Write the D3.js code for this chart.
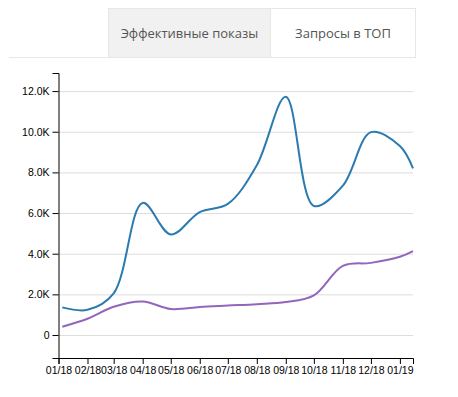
<!DOCTYPE html>
<html>
<head>
<meta charset="utf-8">
<script src="https://cdn.jsdelivr.net/npm/d3@7"></script>
<style>
  body { margin: 0; background: #fff; }
  .tabTxt { font-family: "Open Sans", sans-serif; font-size: 13px; fill: #555; }
  .d3Axis text { font-family: "Liberation Sans", Arial, sans-serif; font-size: 10.5px; fill: #000; }
  .d3Axis path, .d3Axis line { stroke: #000; }
  .d3Grid line { stroke: #ddd; }
  .d3Grid .domain { display: none; }
</style>
</head>
<body>
<div id="chartCVS"></div>
<script>
// tabs
var tabLabels = ["Эффективные показы", "Запросы в ТОП"];

// data, one point per month
var dates = ["2018-01-05", "2018-02-01", "2018-03-01", "2018-04-01", "2018-05-01", "2018-06-01",
             "2018-07-01", "2018-08-01", "2018-09-01", "2018-10-01", "2018-11-01", "2018-12-01",
             "2019-01-01", "2019-01-15"];
var shows = [1360, 1240, 2050, 6500, 4950, 6050, 6450, 8350, 11720, 6350, 7350, 9980, 9300, 8200];
var queries = [410, 800, 1390, 1650, 1280, 1380, 1450, 1520, 1620, 1950, 3400, 3550, 3850, 4130];

var xDomain = ["2018-01-01", "2019-01-15"];
var yDomain = [-1130, 12890];

var parseDate = d3.timeParse("%Y-%m-%d");

drawLineChart("chartCVS");

function drawLineChart(divIdStr) {
	var W = 458, H = 397;
	var margin = {top: 73, right: 45, bottom: 39, left: 58.5};
	var width = W - margin.left - margin.right,
	    height = H - margin.top - margin.bottom;

	var svg = d3.select("#" + divIdStr).append("svg")
		.attr("width", W)
		.attr("height", H);

	// tabs on top
	var tabs = [{x: 108.5, w: 162, fill: "#f1f1f1"}, {x: 270.5, w: 145, fill: "#fff"}];
	svg.append("line")
		.attr("x1", 9).attr("x2", 108.5)
		.attr("y1", 57.5).attr("y2", 57.5)
		.attr("stroke", "#e8e8e8");
	var tabG = svg.append("g").selectAll("g")
		.data(tabs)
		.enter().append("g");
	tabG.append("rect")
		.attr("x", function(d) { return d.x; })
		.attr("y", 8.5)
		.attr("width", function(d) { return d.w; })
		.attr("height", 49)
		.attr("fill", function(d) { return d.fill; })
		.attr("stroke", "#e6e6e6");
	tabG.append("text")
		.attr("class", "tabTxt")
		.attr("x", function(d) { return d.x + d.w / 2; })
		.attr("y", 38)
		.attr("text-anchor", "middle")
		.text(function(d, i) { return tabLabels[i]; });

	var g = svg.append("g")
		.attr("transform", "translate(" + margin.left + "," + margin.top + ")");

	var x = d3.scaleTime().range([0, width]).domain(xDomain.map(parseDate));
	var y = d3.scaleLinear().range([height, 0]).domain(yDomain);

	var yFmt = function(v) { return v === 0 ? "0" : d3.format(".1f")(v / 1000) + "K"; };

	g.append("g")
		.attr("class", "d3Grid")
		.call(d3.axisLeft(y).ticks(7).tickSize(-width).tickFormat(""));

	var series = [
		{vals: shows, color: "#2b7bb1"},
		{vals: queries, color: "#9266bb"}
	];

	var line = d3.line()
		.curve(d3.curveCatmullRom.alpha(0.5))
		.x(function(d) { return x(d.date); })
		.y(function(d) { return y(d.val); });

	g.selectAll(".d3Line")
		.data(series)
		.enter().append("path")
		.attr("class", "d3Line")
		.attr("fill", "none")
		.attr("stroke", function(s) { return s.color; })
		.attr("stroke-width", 2)
		.attr("d", function(s) {
			return line(s.vals.map(function(v, i) { return {date: parseDate(dates[i]), val: v}; }));
		});

	g.append("g")
		.attr("class", "d3Axis")
		.call(d3.axisLeft(y).ticks(7).tickFormat(yFmt));

	g.append("g")
		.attr("class", "d3Axis")
		.attr("transform", "translate(0," + height + ")")
		.call(d3.axisBottom(x).ticks(d3.timeMonth.every(1)).tickFormat(d3.timeFormat("%m/%y")));
}
</script>
</body>
</html>
